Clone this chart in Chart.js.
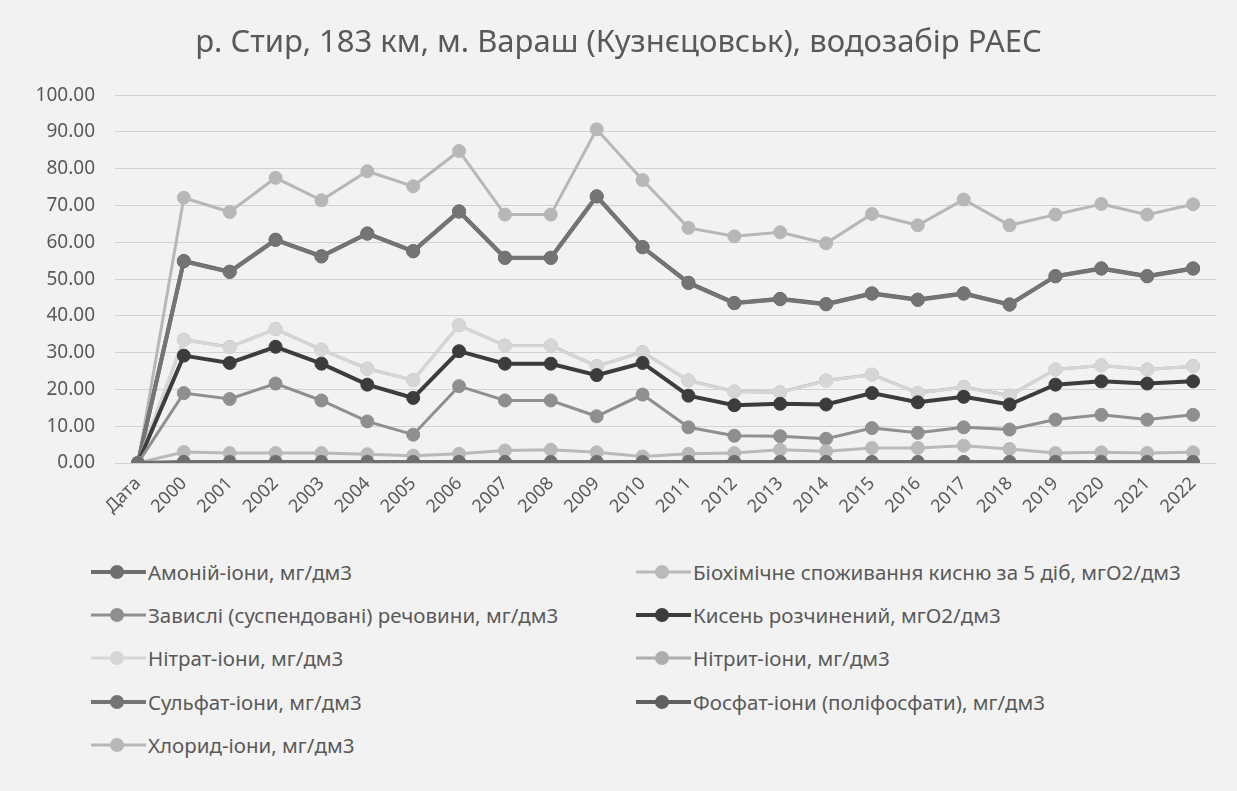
<!DOCTYPE html>
<html>
<head>
<meta charset="utf-8">
<script src="https://cdn.jsdelivr.net/npm/chart.js@4.4.1/dist/chart.umd.min.js"></script>
<style>
body{margin:0;background:#f2f2f2;font-family:'Noto Sans',sans-serif;}
#wrap{position:relative;width:1237px;height:791px;overflow:hidden;}
#chartCanvas{position:absolute;left:0;top:0;}
#legend{position:absolute;left:91px;top:550px;display:grid;grid-template-columns:545px 560px;}
.item{display:flex;align-items:center;height:43.3px;color:#595959;font-size:20.5px;white-space:nowrap;}
.mark{position:relative;width:55px;height:14px;margin-right:2px;flex:none;}
.mark .ln{position:absolute;left:0;right:0;top:50%;transform:translateY(-50%);}
.mark .dot{position:absolute;left:19px;top:0;width:14px;height:14px;border-radius:50%;}
</style>
</head>
<body>
<div id="wrap">
<canvas id="chartCanvas" width="1237" height="530"></canvas>
<div id="legend"></div>
</div>
<script>
// стовпці з таблиці (графік з накопиченням, як в Excel)
const chartTitle = "р. Стир, 183 км, м. Вараш (Кузнєцовськ), водозабір РАЕС";
const categories = ["Дата","2000","2001","2002","2003","2004","2005","2006","2007","2008","2009","2010","2011","2012","2013","2014","2015","2016","2017","2018","2019","2020","2021","2022"];

const amonii   = [0, 0.3,0.3,0.3,0.3,0.3,0.3,0.3,0.3,0.3,0.3,0.3,0.3,0.3,0.3,0.3,0.3,0.3,0.3,0.3,0.3,0.3,0.3,0.3];
const bsk5     = [0, 2.7,2.4,2.4,2.4,2.1,1.7,2.2,3.1,3.3,2.6,1.5,2.2,2.4,3.3,2.9,3.8,3.8,4.4,3.5,2.4,2.6,2.4,2.6];
const zavysli  = [0, 16.0,14.7,18.9,14.3,8.9,5.7,18.4,13.6,13.4,9.8,16.8,7.2,4.7,3.7,3.4,5.4,4.1,5.0,5.3,9.1,10.2,9.1,10.2];
const kysen    = [0, 10.2,9.8,10.0,10.0,10.0,10.0,9.5,10.0,10.0,11.2,8.6,8.6,8.3,8.8,9.3,9.5,8.3,8.3,6.8,9.5,9.1,9.8,9.1];
const nitraty  = [0, 4.3,4.3,4.8,3.8,4.3,4.8,7.0,4.9,4.9,2.4,2.9,4.1,3.7,3.1,6.5,5.0,2.5,2.6,2.4,4.1,4.3,3.8,4.1];
const nitryty  = [0, 0.03,0.03,0.03,0.03,0.03,0.03,0.03,0.03,0.03,0.03,0.03,0.03,0.03,0.03,0.03,0.03,0.03,0.03,0.03,0.03,0.03,0.03,0.03];
const sulfaty  = [0, 21.3,20.4,24.2,25.3,36.7,35.0,30.9,23.8,23.8,46.1,28.5,26.5,24.0,25.3,20.7,22.0,25.3,25.4,24.7,25.3,26.3,25.3,26.5];
const fosfaty  = [0, 0.1,0.1,0.1,0.1,0.1,0.1,0.1,0.1,0.1,0.1,0.1,0.1,0.1,0.1,0.1,0.1,0.1,0.1,0.1,0.1,0.1,0.1,0.1];
const khlorydy = [0, 17.2,16.2,16.8,15.2,16.9,17.6,16.4,11.7,11.7,18.2,18.2,14.9,18.1,18.1,16.5,21.6,20.2,25.5,21.5,16.7,17.5,16.7,17.4];

const seriesNames = [
  "Амоній-іони, мг/дм3",
  "Біохімічне споживання кисню за 5 діб, мгО2/дм3",
  "Завислі (суспендовані) речовини, мг/дм3",
  "Кисень розчинений, мгО2/дм3",
  "Нітрат-іони, мг/дм3",
  "Нітрит-іони, мг/дм3",
  "Сульфат-іони, мг/дм3",
  "Фосфат-іони (поліфосфати), мг/дм3",
  "Хлорид-іони, мг/дм3"
];
const seriesValues = [amonii, bsk5, zavysli, kysen, nitraty, nitryty, sulfaty, fosfaty, khlorydy];
const seriesColors = ["#6f6f6f","#b9b9b9","#8f8f8f","#3c3c3c","#d6d6d6","#adadad","#747474","#606060","#b7b7b7"];
const lineWidths = [4,3,3,4,3,3,4,4,3];

Chart.defaults.font.family = "'Noto Sans', sans-serif";

const datasets = [];
for (let i = 0; i < seriesNames.length; i++) {
  datasets.push({
    label: seriesNames[i],
    data: seriesValues[i],
    borderColor: seriesColors[i],
    backgroundColor: seriesColors[i],
    borderWidth: lineWidths[i],
    pointRadius: 6.5,
    pointBorderWidth: 1,
    pointBorderColor: seriesColors[i],
    pointBackgroundColor: seriesColors[i],
    fill: false,
    tension: 0
  });
}

const chart = new Chart("chartCanvas", {
  type: "line",
  data: {labels: categories, datasets: datasets},
  options: {
    responsive: false,
    animation: false,
    layout: {padding: {left: 21, right: 21, top: 0, bottom: 0}},
    plugins: {
      legend: {display: false},
      tooltip: {enabled: false},
      title: {
        display: true,
        text: chartTitle,
        color: "#595959",
        font: {size: 31, weight: "normal"},
        padding: {top: 25, bottom: 33}
      }
    },
    scales: {
      x: {
        offset: true,
        grid: {display: false},
        border: {display: false},
        ticks: {minRotation: 45, maxRotation: 45, autoSkip: false, color: "#595959", font: {size: 18}, padding: 2},
        afterFit: function(s){ s.height = 67; }
      },
      y: {
        stacked: true,
        min: 0,
        max: 100,
        grid: {color: "#d2d2d2", drawTicks: false},
        border: {display: false},
        ticks: {stepSize: 10, color: "#595959", font: {size: 19}, padding: 20,
          callback: function(v){ return v.toFixed(2); }},
        afterFit: function(s){ s.width = 94; }
      }
    }
  }
});

// легенда у два стовпці
const legend = document.getElementById("legend");
chart.data.datasets.forEach(function(ds){
  const item = document.createElement("div");
  item.className = "item";
  const mark = document.createElement("span");
  mark.className = "mark";
  const ln = document.createElement("span");
  ln.className = "ln";
  ln.style.height = ds.borderWidth + "px";
  ln.style.background = ds.borderColor;
  const dot = document.createElement("span");
  dot.className = "dot";
  dot.style.background = ds.borderColor;
  mark.appendChild(ln);
  mark.appendChild(dot);
  const txt = document.createElement("span");
  txt.textContent = ds.label;
  item.appendChild(mark);
  item.appendChild(txt);
  legend.appendChild(item);
});
</script>
</body>
</html>
